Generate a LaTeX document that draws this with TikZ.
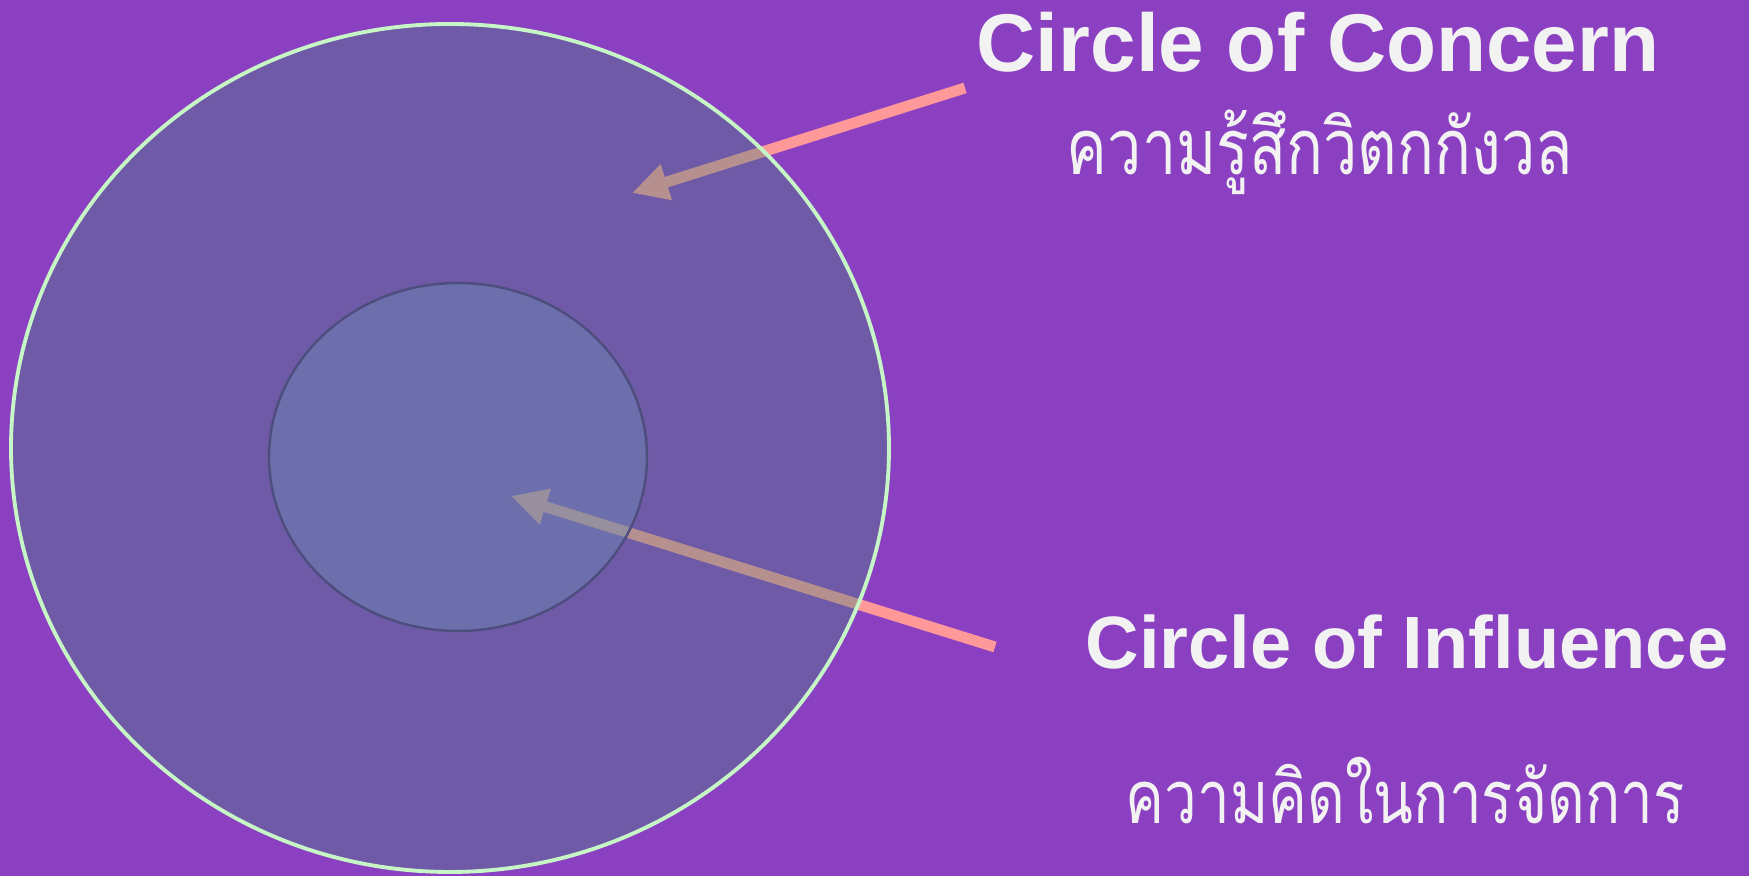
\documentclass[tikz,border=0pt]{standalone}
\usepackage{fontspec}
\setmainfont{Liberation Sans}
\newfontfamily\thaifont[Script=Thai, FakeStretch=0.79]{Loma}
\usepackage{tikz}
\usetikzlibrary{arrows.meta, positioning}
\definecolor{bgcolor}{RGB}{139,64,194}
\definecolor{concerncolor}{RGB}{70,131,128}
\definecolor{influcolor}{RGB}{108,143,180}
\definecolor{rimcolor}{RGB}{198,245,198}
\definecolor{innerrim}{RGB}{78,78,126}
\definecolor{pointcolor}{RGB}{255,153,153}
\definecolor{textcolor}{RGB}{242,242,242}
\tikzset{
  title/.style={anchor=base, text=textcolor, inner sep=0pt,
                font=\bfseries\fontsize{#1}{#1}\selectfont},
  title/.default=23.3pt,
  thaitext/.style={anchor=base, text=textcolor, inner sep=0pt,
                   font=\thaifont\fontsize{#1}{#1}\selectfont},
  thaitext/.default=22pt,
  pointer/.style={draw=pointcolor, line width=3.1pt,
                  -{Triangle[length=0.36cm, width=0.35cm]}},
}
\begin{document}
\begin{tikzpicture}

  \fill[bgcolor] (0,0) rectangle (17.49,8.76);
  \useasboundingbox (0,0) rectangle (17.49,8.76);

  % --- Pointers (below the circles) ---
  \coordinate (concernfrom) at (9.65,7.88);
  \coordinate (concernto) at (6.32,6.83);
  \coordinate (influfrom) at (9.95,2.29);
  \coordinate (influto) at (5.11,3.80);
  \draw[pointer] (concernfrom) -- (concernto);
  \draw[pointer] (influfrom) -- (influto);

  % --- Circles ---
  \fill[concerncolor, opacity=0.4] (4.50,4.28) ellipse [x radius=4.39cm, y radius=4.24cm];
  \draw[rimcolor, line width=1.1pt] (4.50,4.28) ellipse [x radius=4.39cm, y radius=4.24cm];
  \fill[influcolor, opacity=0.4] (4.58,4.19) ellipse [x radius=1.89cm, y radius=1.74cm];
  \draw[innerrim, line width=0.7pt] (4.58,4.19) ellipse [x radius=1.89cm, y radius=1.74cm];

  % --- Labels ---
  \node[title] (concern) at (13.18,8.04) {Circle of Concern};
  \node[thaitext] (concernth) at (13.20,7.01) {ความรู้สึกวิตกกังวล};
  \node[title=21.1pt] (influence) at (14.07,2.07) {Circle of Influence};
  \node[thaitext=21pt] (influenceth) at (14.05,0.52) {ความคิดในการจัดการ};

\end{tikzpicture}
\end{document}
